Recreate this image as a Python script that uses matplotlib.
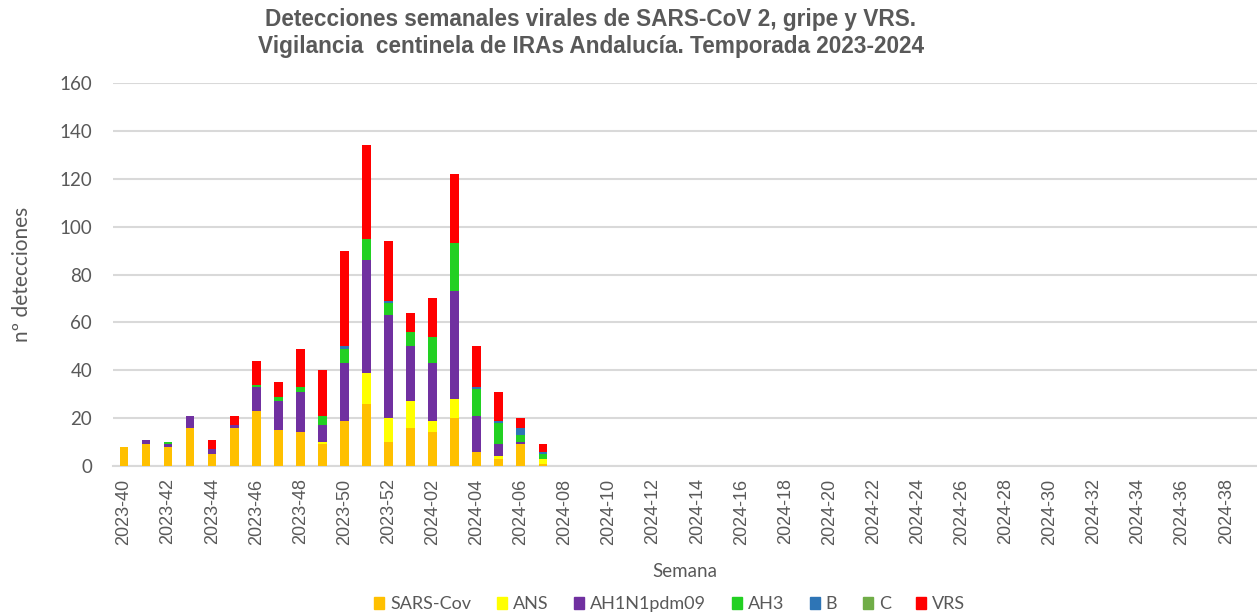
import numpy as np
import matplotlib.pyplot as plt
from matplotlib.patches import Patch

# Semanas de la temporada (2023-40 a 2024-39)
semanas = [f"2023-{w}" for w in range(40, 53)] + [f"2024-{w:02d}" for w in range(1, 40)]

# Detecciones por virus (semanas 2023-40 a 2024-07, el resto sin detecciones)
sars_cov = [8, 9, 8, 16, 5, 16, 23, 15, 14, 9, 19, 26, 10, 16, 14, 20, 6, 3, 9, 1]
ans      = [0, 0, 0, 0, 0, 0, 0, 0, 0, 1, 0, 13, 10, 11, 5, 8, 0, 1, 0, 2]
ah1n1    = [0, 2, 1, 5, 2, 1, 10, 12, 17, 7, 24, 47, 43, 23, 24, 45, 15, 5, 1, 0]
ah3      = [0, 0, 1, 0, 0, 0, 1, 2, 2, 4, 6, 9, 5, 6, 11, 20, 11, 9, 3, 2]
gripe_b  = [0, 0, 0, 0, 0, 0, 0, 0, 0, 0, 1, 0, 1, 0, 0, 0, 1, 1, 3, 1]
gripe_c  = [0, 0, 0, 0, 0, 0, 0, 0, 0, 0, 0, 0, 0, 0, 0, 0, 0, 0, 0, 0]
vrs      = [0, 0, 0, 0, 4, 4, 10, 6, 16, 19, 40, 39, 25, 8, 16, 29, 17, 12, 4, 3]

series = [
    ("SARS-Cov", sars_cov, "#FFC000"),
    ("ANS", ans, "#FFFF00"),
    ("AH1N1pdm09", ah1n1, "#7030A0"),
    ("AH3", ah3, "#22D022"),
    ("B", gripe_b, "#2E75B6"),
    ("C", gripe_c, "#70AD47"),
    ("VRS", vrs, "#FF0000"),
]

gris = "#595959"
fig = plt.figure(figsize=(12.57, 6.15), dpi=100)
ax = fig.add_axes([0.0899, 0.2423, 0.9101, 0.6227])

x = np.arange(len(sars_cov))
base = np.zeros(len(sars_cov))
for nombre, valores, color in series:
    ax.bar(x, valores, width=0.39, bottom=base, color=color, label=nombre, zorder=3)
    base += np.array(valores)

ax.set_xlim(-0.5, len(semanas) - 0.6)
ax.set_ylim(0, 160)
ax.set_yticks(range(0, 161, 20))
ax.set_xticks(range(0, len(semanas), 2))
ax.set_xticklabels(semanas[::2], rotation=90, fontsize=13, color=gris,
                   family="Liberation Sans")
ax.tick_params(axis="y", labelsize=13.5, labelcolor=gris, length=0, pad=15)
ax.tick_params(axis="x", length=0, pad=9)
for lab in ax.get_yticklabels():
    lab.set_family("Lato")

ax.grid(axis="y", color="#D9D9D9", linewidth=1.5, zorder=0)
for s in ["top", "right", "left"]:
    ax.spines[s].set_visible(False)
ax.spines["bottom"].set_color("#D9D9D9")
ax.spines["bottom"].set_linewidth(1.5)

ax.set_ylabel("nº detecciones", fontsize=15, color=gris, family="Lato", labelpad=20)
fig.text(0.545, 0.062, "Semana", fontsize=13.5, color=gris, family="Lato", ha="center")

fig.text(0.47, 0.987, "Detecciones semanales virales de SARS-CoV 2, gripe y VRS.\n"
         "Vigilancia  centinela de IRAs Andalucía. Temporada 2023-2024",
         ha="center", va="top", fontsize=16.3, fontweight="bold", color=gris,
         family="Liberation Sans", linespacing=1.25)

handles = [Patch(color=c) for _, _, c in series]
fig.legend(handles, [n for n, _, _ in series], loc="lower center", ncol=7,
           bbox_to_anchor=(0.533, -0.022), frameon=False, handlelength=0.55,
           handleheight=0.7, handletextpad=0.35, columnspacing=1.4,
           prop={"family": "Lato", "size": 13}, labelcolor=gris)

fig.savefig("out.png", dpi=100)
